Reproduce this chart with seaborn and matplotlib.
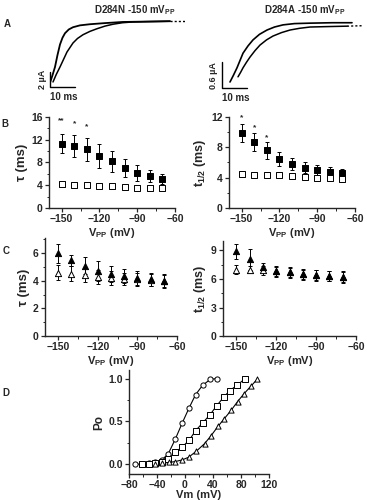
import numpy as np
import matplotlib
matplotlib.use("Agg")
import matplotlib.pyplot as plt
from matplotlib.ticker import AutoMinorLocator
import seaborn as sns

# ---- panel A: current traces (time ms, current uA)
a_n_fast_t = [0, 1, 2, 3, 4, 5, 6, 7.5, 9.2, 12, 16, 22, 29, 38, 48]
a_n_fast_i = [0.3, 1.3, 2.4, 4.0, 5.4, 6.3, 6.9, 7.4, 7.7, 7.95, 8.1, 8.25, 8.4, 8.45, 8.5]
a_n_slow_t = [1.2, 2.5, 4, 5.4, 6.8, 8, 9.2, 11, 13.2, 16, 18.8, 22, 25.2, 29, 33, 40, 48]
a_n_slow_i = [0.4, 1.4, 2.4, 3.4, 4.4, 5.0, 5.6, 6.2, 6.7, 7.15, 7.5, 7.85, 8.1, 8.3, 8.4, 8.45, 8.5]
a_n_dot_t = [48, 54]
a_n_dot_i = [8.5, 8.5]

a_a_fast_t = [3.2, 4.6, 6, 7.2, 8.4, 10.4, 12.4, 15, 18, 21, 24.4, 29, 35.2, 44, 52]
a_a_fast_i = [0.14, 0.3, 0.47, 0.64, 0.81, 0.98, 1.12, 1.25, 1.35, 1.42, 1.47, 1.50, 1.51, 1.52, 1.52]
a_a_slow_t = [6.4, 7.4, 8.4, 9.8, 11.2, 13.2, 15.2, 17.8, 20.4, 23.8, 27.2, 31, 35.2, 42, 50]
a_a_slow_i = [0.26, 0.36, 0.47, 0.6, 0.72, 0.87, 1.0, 1.12, 1.21, 1.29, 1.35, 1.39, 1.42, 1.43, 1.44]
a_a_dot_t = [50, 56]
a_a_dot_i = [1.44, 1.45]

# ---- panels B and C: prepulse voltage
vpp = [-150, -140, -130, -120, -110, -100, -90, -80, -70]

b_tau_fill = [11.3, 10.9, 10.3, 9.2, 8.2, 7.0, 6.2, 5.6, 5.1]
b_tau_fill_sd = [1.7, 1.9, 2.0, 2.1, 1.9, 1.6, 1.4, 1.0, 0.9]
b_tau_open = [4.2, 4.1, 4.0, 3.9, 3.8, 3.7, 3.6, 3.5, 3.5]
b_tau_open_sd = [0.35, 0.3, 0.3, 0.3, 0.3, 0.3, 0.3, 0.3, 0.25]
b_tau_star_x = [-150, -140, -130]
b_tau_star_y = [15.3, 14.8, 14.3]
b_tau_star = ["**", "*", "*"]

b_t12_fill = [9.9, 8.7, 7.6, 6.5, 5.8, 5.3, 5.0, 4.8, 4.6]
b_t12_fill_sd = [1.2, 1.2, 1.1, 0.9, 0.8, 0.7, 0.7, 0.6, 0.6]
b_t12_open = [4.5, 4.4, 4.3, 4.3, 4.2, 4.1, 4.0, 3.9, 3.8]
b_t12_open_sd = [0.4, 0.4, 0.4, 0.4, 0.4, 0.4, 0.4, 0.4, 0.4]
b_t12_star_x = [-150, -140, -130]
b_t12_star_y = [11.9, 10.6, 9.3]
b_t12_star = ["*", "*", "*"]

c_tau_fill = [6.0, 5.5, 5.1, 4.7, 4.5, 4.35, 4.2, 4.1, 4.0]
c_tau_fill_sd = [0.7, 0.4, 0.6, 0.7, 0.6, 0.5, 0.5, 0.5, 0.5]
c_tau_open = [4.6, 4.5, 4.4, 4.3, 4.2, 4.15, 4.1, 4.05, 4.0]
c_tau_open_sd = [0.55, 0.55, 0.5, 0.5, 0.5, 0.45, 0.45, 0.45, 0.45]

c_t12_fill = [8.9, 8.1, 7.3, 6.8, 6.7, 6.5, 6.4, 6.3, 6.2]
c_t12_fill_sd = [0.8, 1.1, 0.4, 0.6, 0.55, 0.6, 0.6, 0.55, 0.6]
c_t12_open = [7.0, 7.0, 6.9, 6.8, 6.7, 6.5, 6.4, 6.3, 6.2]
c_t12_open_sd = [0.5, 0.4, 0.5, 0.5, 0.5, 0.5, 0.5, 0.5, 0.5]

# ---- panel D: open probability vs Vm
d_circ_v = [-72, -62, -52, -43, -33, -24, -14, -4, 6, 15, 25, 36, 45]
d_circ_p = [0.0, 0.0, 0.01, 0.02, 0.05, 0.12, 0.29, 0.48, 0.66, 0.81, 0.92, 0.99, 1.0]
d_sq_v = [-62, -52, -43, -33, -24, -14, -4, 6, 15, 25, 36, 45, 55, 64, 74, 86]
d_sq_p = [0.0, 0.0, 0.01, 0.02, 0.06, 0.14, 0.20, 0.28, 0.39, 0.48, 0.58, 0.68, 0.78, 0.86, 0.92, 1.0]
d_tri_v = [-43, -33, -23, -14, -4, 5, 16, 28, 37, 47, 56, 66, 75, 84, 94, 103]
d_tri_p = [0.0, 0.01, 0.02, 0.03, 0.05, 0.08, 0.15, 0.24, 0.33, 0.44, 0.53, 0.63, 0.73, 0.82, 0.91, 0.99]

sns.set_style("ticks")
plt.rcParams["font.family"] = ["Liberation Sans", "DejaVu Sans"]
plt.rcParams["font.weight"] = "bold"
plt.rcParams["axes.labelweight"] = "bold"
plt.rcParams["mathtext.fontset"] = "custom"
plt.rcParams["mathtext.rm"] = "Liberation Sans:bold"
plt.rcParams["mathtext.default"] = "rm"
plt.rcParams["axes.linewidth"] = 1.0

W, H = 367, 500
fig = plt.figure(figsize=(W / 100, H / 100), dpi=100)


def box(x0, y0, x1, y1):
    # pixel box -> figure fraction
    return [x0 / W, 1 - y1 / H, (x1 - x0) / W, (y1 - y0) / H]


def style(ax, xlim, ylim, yticks, xticks):
    ax.set_xlim(*xlim)
    ax.set_ylim(*ylim)
    ax.set_xticks(xticks)
    ax.set_yticks(yticks)
    ax.xaxis.set_minor_locator(AutoMinorLocator(2))
    ax.yaxis.set_minor_locator(AutoMinorLocator(2))
    ax.tick_params(which="major", length=3, width=0.9, labelsize=7.5, pad=1.5)
    ax.tick_params(which="minor", length=1.8, width=0.7)
    for lab in ax.get_xticklabels() + ax.get_yticklabels():
        lab.set_fontweight("bold")
    sns.despine(ax=ax)


def points(ax, x, y, sd, marker, filled, size=18):
    ax.errorbar(x, y, yerr=sd, fmt="none", ecolor="black", elinewidth=0.7,
                capsize=1.6, capthick=0.7, zorder=2)
    sns.scatterplot(x=x, y=y, marker=marker, s=size,
                    color="black" if filled else "white",
                    edgecolor="black", linewidth=0.7, ax=ax, zorder=3)


# ---------------- panel A
axA1 = fig.add_axes(box(50, 15, 185, 90))
axA1.set_xlim(0, 54)
axA1.set_ylim(-0.67, 9.33)
axA1.axis("off")
sns.lineplot(x=a_n_fast_t, y=a_n_fast_i, sort=False, color="black", lw=1.3, ax=axA1)
sns.lineplot(x=a_n_slow_t, y=a_n_slow_i, sort=False, color="black", lw=1.1, ax=axA1)
axA1.plot(a_n_dot_t, a_n_dot_i, color="black", lw=1.0, ls=(0, (1.5, 1.5)))
axA1.plot([0, 0, 10], [1.73, -0.27, -0.27], color="black", lw=1.0, clip_on=False)
axA1.text(-3.2, 0.73, "2 µA", rotation=90, ha="center", va="center", fontsize=6.5)
axA1.text(5.5, -1.6, "10 ms", ha="center", va="center", fontsize=7)
fig.text(135 / W, 1 - 10 / H, "D284N -150 mV$_{PP}$", ha="center", va="center", fontsize=7)

axA2 = fig.add_axes(box(222, 15, 367, 92))
axA2.set_xlim(0, 58)
axA2.set_ylim(-0.093, 1.70)
axA2.axis("off")
sns.lineplot(x=a_a_fast_t, y=a_a_fast_i, sort=False, color="black", lw=1.2, ax=axA2)
sns.lineplot(x=a_a_slow_t, y=a_a_slow_i, sort=False, color="black", lw=1.1, ax=axA2)
axA2.plot(a_a_dot_t, a_a_dot_i, color="black", lw=1.0, ls=(0, (1.5, 1.5)))
axA2.plot([0, 0, 10], [0.6, 0, 0], color="black", lw=1.0, clip_on=False)
axA2.text(-3.6, 0.3, "0.6 µA", rotation=90, ha="center", va="center", fontsize=6.5)
axA2.text(5.5, -0.24, "10 ms", ha="center", va="center", fontsize=7, clip_on=False)
fig.text(305 / W, 1 - 10 / H, "D284A -150 mV$_{PP}$", ha="center", va="center", fontsize=7)

# ---------------- panel B
axB1 = fig.add_axes(box(49, 117, 175, 208))
points(axB1, vpp, b_tau_fill, b_tau_fill_sd, "s", True)
points(axB1, vpp, b_tau_open, b_tau_open_sd, "s", False)
for x, y, s in zip(b_tau_star_x, b_tau_star_y, b_tau_star):
    axB1.text(x, y, s, ha="center", va="center", fontsize=6)
style(axB1, (-160, -60), (0, 16), [0, 4, 8, 12, 16], [-150, -120, -90, -60])
axB1.set_ylabel("τ (ms)", fontsize=9.5, labelpad=2)
axB1.set_xlabel("V$_{PP}$ (mV)", fontsize=8, labelpad=1)

axB2 = fig.add_axes(box(229, 117, 355, 208))
points(axB2, vpp, b_t12_fill, b_t12_fill_sd, "s", True)
points(axB2, vpp, b_t12_open, b_t12_open_sd, "s", False)
for x, y, s in zip(b_t12_star_x, b_t12_star_y, b_t12_star):
    axB2.text(x, y, s, ha="center", va="center", fontsize=6)
style(axB2, (-160, -60), (0, 12), [0, 4, 8, 12], [-150, -120, -90, -60])
axB2.set_ylabel("t$_{1/2}$ (ms)", fontsize=9, labelpad=2)
axB2.set_xlabel("V$_{PP}$ (mV)", fontsize=8, labelpad=1)

# ---------------- panel C
axC1 = fig.add_axes(box(45, 238, 177, 336))
points(axC1, vpp, c_tau_open, c_tau_open_sd, "^", False, 20)
points(axC1, vpp, c_tau_fill, c_tau_fill_sd, "^", True, 20)
style(axC1, (-160, -60), (0, 7.1), [0, 2, 4, 6], [-150, -120, -90, -60])
axC1.set_ylabel("τ (ms)", fontsize=9.5, labelpad=2)
axC1.set_xlabel("V$_{PP}$ (mV)", fontsize=8, labelpad=1)

axC2 = fig.add_axes(box(223, 241, 356, 336))
points(axC2, vpp, c_t12_open, c_t12_open_sd, "^", False, 20)
points(axC2, vpp, c_t12_fill, c_t12_fill_sd, "^", True, 20)
style(axC2, (-160, -60), (0, 10), [0, 3, 6, 9], [-150, -120, -90, -60])
axC2.set_ylabel("t$_{1/2}$ (ms)", fontsize=9, labelpad=2)
axC2.set_xlabel("V$_{PP}$ (mV)", fontsize=8, labelpad=1)

# ---------------- panel D
axD = fig.add_axes(box(129, 370, 269, 474))
for v, p, m in [(d_circ_v, d_circ_p, "o"), (d_sq_v, d_sq_p, "s"), (d_tri_v, d_tri_p, "^")]:
    sns.lineplot(x=v, y=p, color="black", lw=0.8, ax=axD, zorder=2)
    sns.scatterplot(x=v, y=p, marker=m, s=14, color="white", edgecolor="black",
                    linewidth=0.7, ax=axD, zorder=3)
style(axD, (-80, 120), (-0.115, 1.10), [0.0, 0.5, 1.0], [-80, -40, 0, 40, 80, 120])
axD.set_yticklabels(["0.0", "0.5", "1.0"], fontweight="bold")
axD.tick_params(axis="x", pad=1)
axD.set_ylabel("Po", fontsize=8.5, labelpad=2)
axD.set_xlabel("Vm (mV)", fontsize=8, labelpad=0)

# panel letters
for lab, px, py in [("A", 7, 24), ("B", 5, 124), ("C", 6, 251), ("D", 6, 393)]:
    fig.text(px / W, 1 - py / H, lab, ha="center", va="center", fontsize=7)

fig.savefig("out.png", dpi=100)
